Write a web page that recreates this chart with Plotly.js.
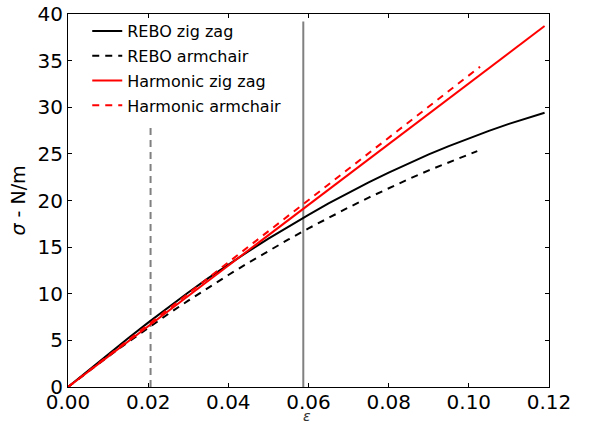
<!DOCTYPE html>
<html>
<head>
<meta charset="utf-8">
<script src="https://cdn.plot.ly/plotly-3.0.1.min.js"></script>
<style>html,body{margin:0;padding:0;background:#fff;}#chart{width:590px;height:423px;}</style>
</head>
<body>
<div id="chart"></div>
<script>
// Strain values and stress (N/m)
const reboZigzagX = [0, 0.005, 0.01, 0.015, 0.02, 0.025, 0.03, 0.035, 0.04, 0.045, 0.05, 0.055, 0.06, 0.065, 0.07, 0.075, 0.08, 0.085, 0.09, 0.095, 0.1, 0.105, 0.11, 0.115, 0.1189];
const reboZigzagY = [0, 1.76, 3.50, 5.22, 6.90, 8.55, 10.14, 11.68, 13.14, 14.55, 15.91, 17.22, 18.47, 19.68, 20.83, 21.94, 22.99, 23.99, 24.94, 25.83, 26.68, 27.47, 28.22, 28.91, 29.41];

const reboArmchairX = [0, 0.005, 0.01, 0.015, 0.02, 0.025, 0.03, 0.035, 0.04, 0.045, 0.05, 0.055, 0.06, 0.065, 0.07, 0.075, 0.08, 0.085, 0.09, 0.095, 0.1, 0.1021];
const reboArmchairY = [0, 1.65, 3.26, 4.82, 6.35, 7.83, 9.26, 10.66, 12.01, 13.33, 14.60, 15.82, 17.01, 18.15, 19.25, 20.31, 21.32, 22.30, 23.23, 24.11, 24.96, 25.30];

const harmZigzagX = [0, 0.02, 0.04, 0.06, 0.08, 0.10, 0.1189];
const harmZigzagY = [0, 6.51, 13.02, 19.54, 26.05, 32.56, 38.71];

const harmArmchairX = [0, 0.02, 0.04, 0.06, 0.08, 0.1028];
const harmArmchairY = [0, 6.68, 13.36, 20.04, 26.72, 34.35];

// Vertical marker lines (strain position, top of line)
const markerDashedX = [0.0206, 0.0206];
const markerDashedY = [0, 28];
const markerSolidX = [0.0587, 0.0587];
const markerSolidY = [0, 39.2];

const xTicks = [0, 0.02, 0.04, 0.06, 0.08, 0.10, 0.12];
const xTickText = ['0.00', '0.02', '0.04', '0.06', '0.08', '0.10', '0.12'];
const yTicks = [0, 5, 10, 15, 20, 25, 30, 35, 40];
const xLabel = '<i>ε</i>';
const yLabel = '<i>σ</i> - N/m';

const font = 'DejaVu Sans, sans-serif';

const traces = [
  {x: markerDashedX, y: markerDashedY, mode: 'lines', showlegend: false, hoverinfo: 'skip',
   line: {color: '#808080', width: 2, dash: '7px,5px'}},
  {x: markerSolidX, y: markerSolidY, mode: 'lines', showlegend: false, hoverinfo: 'skip',
   line: {color: '#808080', width: 2}},
  {x: reboZigzagX, y: reboZigzagY, mode: 'lines', name: 'REBO zig zag', legendgroup: 'a',
   line: {color: '#000000', width: 2}},
  {x: reboArmchairX, y: reboArmchairY, mode: 'lines', name: 'REBO armchair', legendgroup: 'b',
   line: {color: '#000000', width: 2, dash: '7px,6px'}},
  {x: harmZigzagX, y: harmZigzagY, mode: 'lines', name: 'Harmonic zig zag', legendgroup: 'c',
   line: {color: '#ff0000', width: 2}},
  {x: harmArmchairX, y: harmArmchairY, mode: 'lines', name: 'Harmonic armchair', legendgroup: 'd',
   line: {color: '#ff0000', width: 2, dash: '7px,6px'}}
];

const layout = {
  width: 590, height: 423,
  margin: {l: 68, r: 41, t: 14, b: 36},
  paper_bgcolor: '#fff', plot_bgcolor: '#fff',
  font: {family: font, color: '#000'},
  showlegend: true,
  legend: {x: 0.04, y: 1.0, xanchor: 'left', yanchor: 'top', bgcolor: 'rgba(0,0,0,0)',
           font: {family: font, size: 16, color: '#000'}, traceorder: 'grouped', tracegroupgap: 1},
  xaxis: {
    range: [0, 0.12], tickvals: xTicks, ticktext: xTickText,
    ticks: 'inside', ticklen: 4, tickwidth: 1, tickcolor: '#000',
    showline: true, linecolor: '#000', linewidth: 1, mirror: 'allticks',
    showgrid: false, zeroline: false, ticklabelstandoff: -3,
    tickfont: {family: font, size: 20, color: '#000'}
  },
  yaxis: {
    range: [0, 40], tickvals: yTicks,
    ticks: 'inside', ticklen: 4, tickwidth: 1, tickcolor: '#000',
    showline: true, linecolor: '#000', linewidth: 1, mirror: 'allticks',
    showgrid: false, zeroline: false,
    tickfont: {family: font, size: 20, color: '#000'},
    title: {text: yLabel, font: {family: font, size: 19, color: '#000'}, standoff: 6}
  },
  annotations: [
    {text: xLabel, xref: 'paper', yref: 'paper', x: 0.497, y: -0.079, xanchor: 'center', yanchor: 'middle',
     showarrow: false, borderpad: 0, font: {family: font, size: 14, color: '#333'}}
  ]
};

Plotly.newPlot('chart', traces, layout, {staticPlot: true, displayModeBar: false});
</script>
</body>
</html>
